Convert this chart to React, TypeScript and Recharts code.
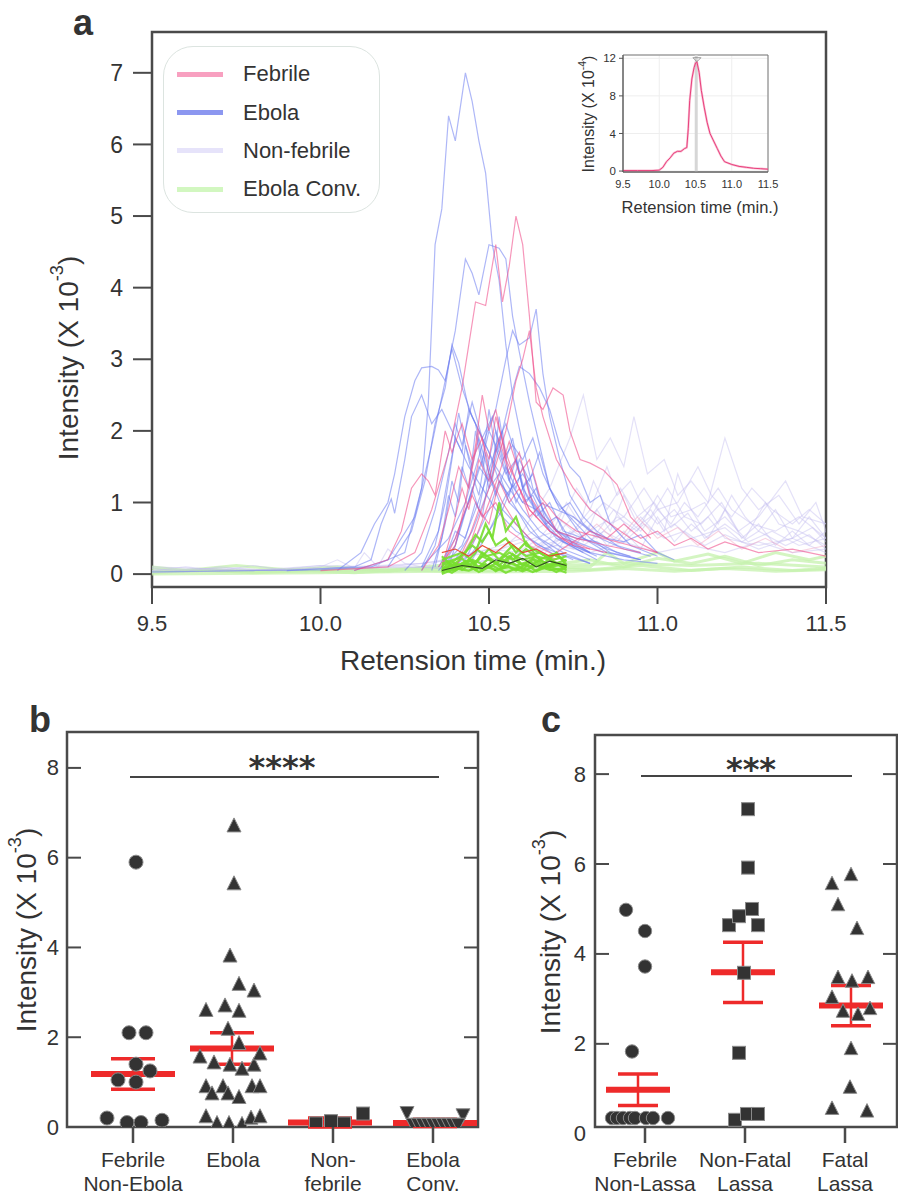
import React from 'react';
import {
  LineChart, Line, XAxis, YAxis, ReferenceArea, ReferenceLine, ReferenceDot,
  ScatterChart, Scatter, CartesianGrid,
} from 'recharts';

const FONT = '"Liberation Sans", Arial, Helvetica, sans-serif';
const AXIS = '#4a4a4a';
const TXT = '#333';
const RED = '#ee2a2a';

// ---------------- Panel a data ----------------
const aXTicks = [9.5, 10, 10.5, 11, 11.5];
const aYTicks = [0, 1, 2, 3, 4, 5, 6, 7];
const legendLabels = ['Febrile', 'Ebola', 'Non-febrile', 'Ebola Conv.'];
const legendColors = ['#f8a0c0', '#8c97f0', '#e6e3fa', '#d2f7c0'];

const ebola1 = [[9.5,0.03],[9.8,0.05],[10.0,0.06],[10.15,0.1],[10.25,0.3],[10.3,1.2],[10.32,2.4],[10.34,4.6],[10.36,5.1],[10.38,6.4],[10.4,6.05],[10.43,7.0],[10.45,6.6],[10.47,6.05],[10.49,5.6],[10.51,4.6],[10.53,4.1],[10.55,3.2],[10.57,2.5],[10.6,1.8],[10.63,1.2],[10.67,0.8],[10.72,0.5],[10.8,0.3],[10.9,0.2],[11.0,0.15]];
const ebola2 = [[10.1,0.05],[10.2,0.2],[10.28,0.8],[10.33,1.8],[10.37,2.7],[10.4,3.4],[10.43,4.4],[10.45,4.2],[10.47,3.9],[10.5,4.6],[10.53,4.55],[10.55,4.4],[10.57,3.6],[10.59,3.1],[10.62,2.4],[10.65,1.8],[10.68,1.2],[10.72,0.9],[10.78,0.5],[10.85,0.3],[10.95,0.2]];
const ebola3 = [[10.2,0.1],[10.27,0.6],[10.31,1.3],[10.34,2.1],[10.37,2.6],[10.39,3.2],[10.41,2.95],[10.44,2.3],[10.47,2.0],[10.5,1.7],[10.53,1.3],[10.57,1.0],[10.62,0.6],[10.7,0.3],[10.8,0.15]];
const ebola4 = [[10.05,0.05],[10.12,0.3],[10.16,0.7],[10.2,1.0],[10.22,1.4],[10.25,2.2],[10.28,2.7],[10.3,2.88],[10.33,2.9],[10.35,2.85],[10.37,2.7],[10.39,3.15],[10.42,2.6],[10.45,2.2],[10.48,1.9],[10.52,1.5],[10.56,1.2],[10.6,0.9],[10.65,0.6],[10.72,0.35],[10.8,0.2]];
const ebola5 = [[9.9,0.05],[10.1,0.1],[10.15,0.2],[10.18,0.7],[10.21,1.05],[10.22,0.85],[10.25,1.6],[10.27,2.2],[10.3,2.5],[10.33,2.1],[10.36,2.3],[10.4,1.9],[10.44,1.5],[10.48,1.2],[10.52,0.9],[10.58,0.6],[10.65,0.4],[10.75,0.2]];
const ebola6 = [[10.3,0.1],[10.38,0.5],[10.43,1.0],[10.48,1.8],[10.52,2.3],[10.55,3.0],[10.57,3.4],[10.59,3.2],[10.62,3.3],[10.64,3.7],[10.66,2.8],[10.68,2.2],[10.71,1.6],[10.74,1.1],[10.78,0.8],[10.82,0.6],[10.88,0.4],[10.95,0.3]];
const ebola7 = [[10.3,0.1],[10.35,0.6],[10.38,1.4],[10.4,1.9],[10.42,1.7],[10.44,2.3],[10.46,2.1],[10.48,1.6],[10.5,2.0],[10.53,1.7],[10.56,1.3],[10.6,1.0],[10.64,0.9],[10.68,0.6],[10.74,0.4],[10.82,0.2]];
const ebola8 = [[10.35,0.1],[10.4,0.5],[10.44,1.0],[10.47,1.5],[10.5,1.3],[10.52,1.8],[10.55,2.1],[10.57,1.8],[10.6,1.6],[10.63,1.9],[10.66,1.4],[10.7,1.0],[10.74,0.8],[10.8,0.5],[10.86,0.3],[10.95,0.2]];
const ebola9 = [[10.4,0.2],[10.45,0.6],[10.5,1.2],[10.53,1.8],[10.56,2.4],[10.59,2.9],[10.62,2.8],[10.65,2.6],[10.68,2.3],[10.71,1.8],[10.74,1.5],[10.77,1.35],[10.8,1.0],[10.83,1.1],[10.86,0.7],[10.92,0.4],[11.0,0.25]];
const ebola10 = [[10.36,0.1],[10.4,0.4],[10.43,0.9],[10.46,1.3],[10.48,1.6],[10.5,1.2],[10.53,1.4],[10.56,1.0],[10.6,0.8],[10.65,0.5],[10.72,0.3],[10.8,0.15]];
const ebola11 = [[10.38,0.05],[10.45,0.3],[10.5,0.6],[10.54,0.9],[10.57,1.25],[10.6,1.0],[10.63,1.1],[10.66,0.8],[10.7,0.6],[10.76,0.5],[10.82,0.45],[10.88,0.3],[10.95,0.2]];
const ebola12 = [[10.45,0.2],[10.5,0.6],[10.55,1.1],[10.6,1.4],[10.65,1.0],[10.7,0.9],[10.75,0.8],[10.8,0.6],[10.85,0.5],[10.9,0.45],[10.95,0.55],[11.0,0.3],[11.05,0.2]];
const ebola13 = [[10.3,0.05],[10.34,0.4],[10.37,1.0],[10.39,1.6],[10.41,2.25],[10.43,1.8],[10.45,1.5],[10.47,1.9],[10.5,1.4],[10.54,0.9],[10.58,0.7],[10.62,0.5],[10.7,0.25]];
const ebola14 = [[10.35,0.05],[10.42,0.4],[10.46,0.9],[10.49,1.3],[10.52,1.75],[10.55,1.4],[10.58,1.6],[10.61,1.1],[10.65,0.8],[10.7,0.5],[10.78,0.3]];
const ebola15 = [[10.33,0.05],[10.36,0.5],[10.38,1.1],[10.4,0.8],[10.42,1.5],[10.44,1.2],[10.46,2.0],[10.48,1.5],[10.5,2.3],[10.52,1.7],[10.54,2.0],[10.56,1.3],[10.58,1.6],[10.61,1.0],[10.64,1.2],[10.67,0.7],[10.7,0.8],[10.75,0.4],[10.82,0.25]];
const ebola16 = [[10.34,0.1],[10.37,0.7],[10.39,1.3],[10.41,1.0],[10.43,1.8],[10.45,1.4],[10.47,1.1],[10.49,1.7],[10.51,1.3],[10.53,2.2],[10.55,1.6],[10.57,1.9],[10.6,1.2],[10.63,1.4],[10.66,0.9],[10.7,0.6],[10.76,0.45],[10.84,0.3]];
const ebola17 = [[10.36,0.1],[10.4,0.6],[10.43,0.5],[10.46,1.0],[10.48,0.8],[10.5,1.4],[10.52,1.1],[10.55,1.5],[10.58,1.0],[10.61,1.3],[10.64,0.8],[10.68,1.0],[10.72,0.6],[10.78,0.5],[10.85,0.35],[10.92,0.25]];
const ebola18 = [[10.25,0.05],[10.3,0.3],[10.34,0.9],[10.37,1.5],[10.4,2.1],[10.42,1.8],[10.45,2.4],[10.48,1.9],[10.51,2.2],[10.54,1.6],[10.57,1.8],[10.6,1.2],[10.64,0.9],[10.68,0.7],[10.73,0.5],[10.8,0.3]];
const ebola19 = [[10.42,0.1],[10.46,0.5],[10.5,0.9],[10.53,1.3],[10.56,1.1],[10.59,1.6],[10.62,1.3],[10.65,1.7],[10.68,1.2],[10.71,0.9],[10.74,1.0],[10.78,0.7],[10.83,0.5],[10.9,0.35],[10.98,0.25]];
const ebola20 = [[10.38,0.1],[10.42,0.7],[10.45,1.2],[10.47,0.9],[10.5,1.6],[10.52,2.0],[10.55,1.5],[10.58,1.2],[10.6,1.5],[10.63,1.0],[10.67,0.7],[10.72,0.45],[10.8,0.3]];
const ebolaTraces = [ebola1, ebola2, ebola3, ebola4, ebola5, ebola6, ebola7, ebola8, ebola9, ebola10, ebola11, ebola12, ebola13, ebola14, ebola15, ebola16, ebola17, ebola18, ebola19, ebola20];

const febrile1 = [[10.0,0.05],[10.2,0.1],[10.28,0.3],[10.33,0.9],[10.38,1.7],[10.42,2.6],[10.44,3.2],[10.46,3.8],[10.49,3.75],[10.52,4.6],[10.54,3.8],[10.56,4.3],[10.58,5.0],[10.6,4.6],[10.62,3.6],[10.64,2.4],[10.66,2.3],[10.69,2.6],[10.72,2.5],[10.74,2.0],[10.77,1.6],[10.8,1.55],[10.84,1.45],[10.88,1.25],[10.92,0.8],[10.98,0.5]];
const febrile2 = [[10.4,0.1],[10.45,0.5],[10.5,1.2],[10.55,2.0],[10.58,2.7],[10.6,3.0],[10.62,3.4],[10.64,2.6],[10.66,2.2],[10.7,1.6],[10.75,1.2],[10.8,0.9],[10.86,0.7],[10.92,0.5],[11.0,0.3]];
const febrile3 = [[10.1,0.05],[10.2,0.2],[10.24,0.6],[10.27,1.2],[10.3,1.4],[10.32,1.3],[10.34,1.1],[10.37,2.0],[10.39,1.7],[10.42,2.1],[10.45,1.6],[10.48,1.9],[10.5,1.4],[10.54,1.0],[10.58,0.7],[10.64,0.4],[10.72,0.2]];
const febrile4 = [[10.35,0.1],[10.4,0.4],[10.43,1.0],[10.46,1.8],[10.48,2.5],[10.5,2.0],[10.52,2.3],[10.55,1.6],[10.58,1.3],[10.62,0.9],[10.68,0.6],[10.75,0.4],[10.85,0.3]];
const febrile5 = [[10.4,0.1],[10.46,0.5],[10.5,1.0],[10.53,1.4],[10.56,1.85],[10.59,1.4],[10.62,1.6],[10.65,1.1],[10.7,0.8],[10.76,0.6],[10.84,0.5],[10.92,0.4],[11.0,0.3]];
const febrile6 = [[10.36,0.1],[10.4,0.5],[10.43,0.9],[10.45,1.1],[10.48,0.8],[10.52,1.0],[10.56,0.6],[10.62,0.4],[10.7,0.2]];
const febrile7 = [[10.7,0.3],[10.8,0.6],[10.85,0.5],[10.9,0.7],[10.95,0.5],[11.0,0.6],[11.05,0.4],[11.1,0.5],[11.15,0.35],[11.2,0.45],[11.3,0.3],[11.4,0.35],[11.5,0.25]];
const febrile8 = [[10.36,0.1],[10.39,0.6],[10.42,1.2],[10.44,0.9],[10.47,1.6],[10.5,1.3],[10.53,1.9],[10.56,1.4],[10.59,1.7],[10.62,1.1],[10.66,0.8],[10.72,0.5],[10.8,0.35]];
const febrile9 = [[10.4,0.1],[10.44,0.5],[10.47,0.9],[10.5,0.7],[10.53,1.3],[10.56,1.0],[10.59,1.2],[10.62,0.8],[10.66,1.0],[10.7,0.6],[10.76,0.5],[10.85,0.4],[10.95,0.3]];
const febrile10 = [[10.3,0.05],[10.35,0.4],[10.38,0.9],[10.41,1.5],[10.44,1.2],[10.47,2.0],[10.5,1.6],[10.52,2.2],[10.55,1.7],[10.58,1.3],[10.62,0.9],[10.68,0.6],[10.75,0.4]];
const febrile11 = [[10.75,0.4],[10.82,0.7],[10.88,0.45],[10.94,0.8],[11.0,0.5],[11.06,0.65],[11.12,0.4],[11.18,0.6],[11.25,0.35],[11.32,0.5],[11.4,0.3],[11.5,0.4]];
const febrileTraces = [febrile1, febrile2, febrile3, febrile4, febrile5, febrile6, febrile7, febrile8, febrile9, febrile10];
const febrileTailTraces = [febrile11];

const nonFeb1 = [[9.5,0.05],[9.7,0.08],[9.9,0.05],[10.1,0.1],[10.3,0.15],[10.5,0.3],[10.7,0.6],[10.76,1.2],[10.8,0.9],[10.85,1.5],[10.88,1.1],[10.92,1.3],[10.96,0.9],[11.0,0.7],[11.05,0.9],[11.1,0.6],[11.15,0.8],[11.2,0.5],[11.3,0.4],[11.4,0.5],[11.5,0.3]];
const nonFeb2 = [[9.5,0.1],[9.8,0.05],[10.0,0.12],[10.2,0.1],[10.4,0.2],[10.6,0.5],[10.7,0.8],[10.75,0.6],[10.8,0.9],[10.86,0.7],[10.9,0.8],[10.95,0.6],[11.0,0.9],[11.04,0.7],[11.08,1.0],[11.12,0.8],[11.18,1.2],[11.22,0.9],[11.28,0.7],[11.35,0.6],[11.42,0.8],[11.5,0.5]];
const nonFeb3 = [[10.5,0.1],[10.7,0.4],[10.78,0.7],[10.82,0.5],[10.88,0.8],[10.94,0.6],[11.0,1.1],[11.04,0.8],[11.1,0.9],[11.14,0.6],[11.2,0.8],[11.26,0.5],[11.32,1.0],[11.36,0.7],[11.42,0.6],[11.5,0.4]];
const nonFeb4 = [[9.5,0.02],[10.0,0.08],[10.4,0.1],[10.6,0.3],[10.72,0.5],[10.78,0.4],[10.84,0.6],[10.9,0.45],[10.96,0.7],[11.02,0.5],[11.08,0.6],[11.14,0.4],[11.2,0.55],[11.3,0.35],[11.4,0.5],[11.46,0.65],[11.5,0.45]];
const nonFeb5 = [[10.5,0.2],[10.6,0.6],[10.68,1.2],[10.74,1.9],[10.78,2.5],[10.82,1.6],[10.86,1.9],[10.9,1.5],[10.93,2.2],[10.97,1.4],[11.02,1.6],[11.06,1.1],[11.1,1.3],[11.15,1.0],[11.2,1.9],[11.25,1.2],[11.3,0.9],[11.36,1.1],[11.42,0.7],[11.47,1.0],[11.5,0.6]];
const nonFeb6 = [[10.55,0.2],[10.65,0.5],[10.72,0.9],[10.78,0.7],[10.84,1.0],[10.9,0.8],[10.96,1.2],[11.0,0.9],[11.06,1.0],[11.12,1.5],[11.16,1.1],[11.22,0.8],[11.28,1.2],[11.34,0.9],[11.4,0.7],[11.45,0.9],[11.5,0.7]];
const nonFeb7 = [[9.5,0.05],[9.6,0.1],[9.7,0.05],[9.8,0.12],[9.9,0.05],[10.0,0.1],[10.05,0.2],[10.1,0.08],[10.13,0.3],[10.17,0.1],[10.2,0.35],[10.25,0.15],[10.3,0.1],[10.4,0.25],[10.5,0.35],[10.6,0.3],[10.7,0.4],[10.8,0.3],[10.9,0.45],[11.0,0.3],[11.1,0.4],[11.2,0.3],[11.3,0.45],[11.4,0.3],[11.5,0.35]];
const nonFeb8 = [[10.6,0.3],[10.7,0.55],[10.75,0.8],[10.8,0.6],[10.85,0.75],[10.9,0.5],[10.95,0.8],[11.0,0.55],[11.05,0.7],[11.1,0.5],[11.2,0.65],[11.25,0.45],[11.3,0.6],[11.38,0.4],[11.45,0.55],[11.5,0.35]];
const nonFeb9 = [[10.7,0.3],[10.74,0.6],[10.78,0.45],[10.82,0.9],[10.86,0.6],[10.9,1.1],[10.94,0.7],[10.98,0.9],[11.02,0.6],[11.06,1.4],[11.1,0.9],[11.14,1.0],[11.18,0.7],[11.22,1.1],[11.26,0.8],[11.3,0.6],[11.35,0.9],[11.4,0.5],[11.45,0.8],[11.5,0.5]];
const nonFeb10 = [[10.65,0.2],[10.7,0.5],[10.75,0.35],[10.8,0.7],[10.85,0.4],[10.9,0.6],[10.95,0.35],[11.0,0.8],[11.05,0.45],[11.1,0.7],[11.15,0.5],[11.2,0.9],[11.25,0.5],[11.3,0.7],[11.35,0.4],[11.4,0.6],[11.45,0.4],[11.5,0.6]];
const nonFeb11 = [[9.5,0.08],[9.6,0.04],[9.7,0.1],[9.85,0.05],[10.0,0.12],[10.1,0.06],[10.2,0.12],[10.35,0.08],[10.5,0.2],[10.65,0.3],[10.75,0.6],[10.8,0.45],[10.87,0.9],[10.92,0.6],[10.98,0.8],[11.03,1.2],[11.08,0.8],[11.13,0.7],[11.19,1.0],[11.24,0.6],[11.3,0.8],[11.38,1.3],[11.43,0.8],[11.5,0.7]];
const nonFeb12 = [[10.6,0.2],[10.68,0.5],[10.73,1.0],[10.77,0.7],[10.81,1.3],[10.85,0.9],[10.89,1.2],[10.94,0.8],[10.99,1.0],[11.04,0.65],[11.09,0.85],[11.14,0.5],[11.2,0.7],[11.27,0.45],[11.34,0.6],[11.42,0.4],[11.5,0.5]];
const nonFebTraces = [nonFeb1, nonFeb2, nonFeb3, nonFeb4, nonFeb5, nonFeb6, nonFeb7, nonFeb8, nonFeb9, nonFeb10, nonFeb11, nonFeb12];

const convFaint1 = [[9.5,0.03],[9.7,0.05],[9.9,0.04],[10.1,0.06],[10.3,0.08],[10.5,0.1],[10.7,0.12],[10.9,0.15],[11.1,0.12],[11.3,0.15],[11.5,0.1]];
const convFaint2 = [[9.5,0.06],[9.8,0.04],[10.0,0.07],[10.2,0.05],[10.4,0.1],[10.6,0.08],[10.8,0.2],[10.9,0.1],[11.0,0.22],[11.1,0.15],[11.2,0.25],[11.3,0.12],[11.4,0.2],[11.5,0.15]];
const convFaint3 = [[9.5,0.0],[10.0,0.02],[10.5,0.05],[10.8,0.1],[10.85,0.3],[10.9,0.15],[11.0,0.3],[11.05,0.18],[11.15,0.28],[11.25,0.15],[11.35,0.3],[11.45,0.2],[11.5,0.25]];
const convFaint4 = [[9.5,0.1],[9.6,0.05],[9.75,0.12],[9.9,0.06],[10.05,0.1],[10.2,0.04],[10.35,0.12],[10.8,0.06],[10.95,0.12],[11.1,0.05],[11.25,0.1],[11.4,0.05],[11.5,0.08]];
const convFaint5 = [[9.5,0.02],[9.65,0.06],[9.8,0.02],[9.95,0.05],[10.1,0.02],[10.25,0.06],[10.4,0.03],[10.75,0.04],[10.9,0.08],[11.05,0.04],[11.2,0.08],[11.35,0.04],[11.5,0.06]];
const convFaintTraces = [convFaint1, convFaint2, convFaint3, convFaint4, convFaint5];

const convBright1 = [[10.36,0.05],[10.4,0.15],[10.44,0.1],[10.48,0.25],[10.52,0.15],[10.56,0.3],[10.6,0.2],[10.64,0.25],[10.68,0.1],[10.73,0.15]];
const convBright2 = [[10.36,0.1],[10.4,0.05],[10.45,0.2],[10.5,0.1],[10.54,0.2],[10.58,0.12],[10.62,0.18],[10.66,0.08],[10.7,0.15],[10.73,0.05]];
const convBright3 = [[10.36,0.2],[10.42,0.3],[10.46,0.15],[10.5,0.35],[10.53,0.2],[10.57,0.4],[10.61,0.25],[10.65,0.3],[10.69,0.2],[10.73,0.25]];
const convBright4 = [[10.36,0.05],[10.42,0.1],[10.46,0.3],[10.49,0.7],[10.51,0.5],[10.53,1.0],[10.55,0.6],[10.58,0.8],[10.61,0.4],[10.65,0.3],[10.7,0.15],[10.73,0.1]];
const convBright5 = [[10.36,0.0],[10.4,0.08],[10.44,0.05],[10.48,0.12],[10.52,0.06],[10.56,0.1],[10.6,0.04],[10.64,0.12],[10.68,0.06],[10.73,0.08]];
const convBright6 = [[10.36,0.15],[10.41,0.22],[10.45,0.4],[10.49,0.25],[10.53,0.3],[10.57,0.2],[10.61,0.35],[10.65,0.2],[10.69,0.28],[10.73,0.18]];
const convBright7 = [[10.36,0.08],[10.39,0.02],[10.43,0.14],[10.47,0.03],[10.51,0.12],[10.55,0.02],[10.59,0.1],[10.63,0.03],[10.67,0.12],[10.73,0.02]];
const convBright8 = [[10.36,0.12],[10.39,0.18],[10.42,0.06],[10.45,0.16],[10.48,0.05],[10.51,0.18],[10.54,0.08],[10.57,0.16],[10.6,0.06],[10.63,0.2],[10.66,0.1],[10.69,0.16],[10.73,0.1]];
const convBright9 = [[10.36,0.02],[10.38,0.1],[10.41,0.12],[10.44,0.2],[10.47,0.1],[10.5,0.22],[10.53,0.12],[10.56,0.25],[10.59,0.15],[10.62,0.1],[10.65,0.2],[10.68,0.12],[10.73,0.2]];
const convBright10 = [[10.36,0.25],[10.39,0.12],[10.42,0.22],[10.45,0.08],[10.48,0.3],[10.51,0.2],[10.54,0.1],[10.57,0.28],[10.6,0.12],[10.63,0.22],[10.66,0.14],[10.7,0.3],[10.73,0.12]];
const convBright11 = [[10.36,0.03],[10.4,0.2],[10.43,0.3],[10.46,0.55],[10.48,0.45],[10.5,0.6],[10.52,0.4],[10.55,0.5],[10.58,0.3],[10.61,0.45],[10.64,0.25],[10.68,0.2],[10.73,0.1]];
const convBright12 = [[10.36,0.06],[10.38,0.15],[10.4,0.1],[10.43,0.18],[10.46,0.06],[10.49,0.14],[10.52,0.04],[10.55,0.12],[10.58,0.05],[10.61,0.14],[10.64,0.04],[10.67,0.1],[10.7,0.03],[10.73,0.1]];
const convBrightTraces = [convBright1, convBright2, convBright3, convBright4, convBright5, convBright6, convBright7, convBright8, convBright9, convBright10, convBright11, convBright12];
const darkTrace = [[10.36,0.05],[10.42,0.12],[10.48,0.08],[10.52,0.2],[10.56,0.15],[10.6,0.22],[10.64,0.1],[10.68,0.18],[10.73,0.12]];
const redTrace = [[10.36,0.3],[10.4,0.35],[10.44,0.25],[10.48,0.4],[10.52,0.3],[10.56,0.45],[10.6,0.3],[10.64,0.35],[10.68,0.25],[10.73,0.3]];

// inset
const insetX = [9.5,9.7,9.9,10.0,10.05,10.1,10.15,10.2,10.25,10.3,10.35,10.38,10.4,10.42,10.45,10.48,10.5,10.52,10.55,10.58,10.62,10.66,10.7,10.75,10.8,10.85,10.9,11.0,11.1,11.2,11.3,11.4,11.5];
const insetY = [0.05,0.05,0.05,0.1,0.4,1.0,1.4,1.9,2.1,2.1,2.4,2.5,4.5,7.5,9.8,11.0,11.5,11.6,10.5,8.6,6.8,5.2,4.0,3.2,2.4,1.6,1.0,0.7,0.5,0.4,0.3,0.25,0.2];
const insetXTicks = [9.5, 10, 10.5, 11, 11.5];
const insetYTicks = [0, 4, 8, 12];

// ---------------- Panel b data ----------------
const bCategories = [['Febrile', 'Non-Ebola'], ['Ebola', ''], ['Non-', 'febrile'], ['Ebola', 'Conv.']];
const bYTicks = [0, 2, 4, 6, 8];
const bFebrile = [[1.03,5.9],[0.96,2.1],[1.13,2.1],[1.03,1.4],[1.17,1.25],[0.85,1.05],[1.03,1.0],[0.74,0.2],[0.94,0.1],[1.08,0.1],[1.29,0.15]];
const bEbola = [[2.01,6.73],[2.01,5.44],[1.97,3.83],[2.06,3.2],[2.21,3.05],[1.73,2.62],[1.92,2.72],[2.06,2.6],[1.95,2.2],[2.06,1.88],[1.67,1.58],[1.81,1.45],[1.97,1.4],[2.09,1.31],[2.21,1.4],[2.27,1.65],[1.73,0.92],[1.79,0.76],[1.9,0.92],[1.95,0.76],[2.06,0.68],[2.19,0.92],[2.27,0.92],[1.73,0.25],[1.84,0.1],[1.96,0.1],[2.09,0.08],[2.18,0.22],[2.27,0.25]];
const bNonFebrile = [[2.83,0.08],[2.98,0.13],[3.11,0.08],[3.3,0.3]];
const bConv = [[3.74,0.3],[4.3,0.25],[3.8,0.04],[3.85,0.04],[3.9,0.04],[3.95,0.04],[4.0,0.04],[4.05,0.04],[4.1,0.04],[4.15,0.04],[4.2,0.04],[4.25,0.04]];
const bCenters = [1.0, 1.99, 2.97, 4.02];
const bMeans = [1.18, 1.75, 0.1, 0.09];
const bSems = [0.34, 0.35, 0.1, 0.08];

// ---------------- Panel c data ----------------
const cCategories = [['Febrile', 'Non-Lassa'], ['Non-Fatal', 'Lassa'], ['Fatal', 'Lassa']];
const cYTicks = [0, 2, 4, 6, 8];
const cFebrile = [[0.81,4.98],[1.0,4.51],[1.0,3.72],[0.87,1.83],[0.67,0.35],[0.72,0.35],[0.78,0.35],[0.85,0.35],[0.9,0.35],[1.01,0.35],[1.08,0.35],[1.23,0.35]];
const cNonFatal = [[2.03,7.22],[2.03,5.92],[1.84,4.64],[1.94,4.84],[2.07,5.0],[2.13,4.64],[1.99,3.58],[1.94,1.8],[1.9,0.31],[2.02,0.44],[2.13,0.44]];
const cFatal = [[2.87,5.58],[3.06,5.78],[2.93,5.11],[3.12,4.58],[2.93,3.49],[3.07,3.41],[3.23,3.49],[2.87,3.05],[2.98,2.74],[3.13,2.67],[3.25,2.8],[3.06,1.91],[3.05,1.05],[2.87,0.58],[3.22,0.52]];
const cCenters = [0.93, 1.98, 3.06];
const cMeans = [0.98, 3.59, 2.85];
const cSems = [0.35, 0.67, 0.45];

const pts = (t: number[][]) => t.map(([x, y]) => ({ x, y }));

// ---------------- shapes ----------------
const MK = '#333';
const MKS = '#8a8a8a';
const circleShape = (r: number) => (p: any) => (
  <circle cx={p.cx} cy={p.cy} r={r} fill={MK} stroke={MKS} strokeWidth={1} />
);
const triShape = (s: number) => (p: any) => (
  <path d={`M${p.cx},${p.cy - s / 2} L${p.cx + s / 2},${p.cy + s / 2} L${p.cx - s / 2},${p.cy + s / 2} Z`} fill={MK} stroke={MKS} strokeWidth={1} />
);
const downTriShape = (s: number) => (p: any) => (
  <path d={`M${p.cx - s / 2},${p.cy - s / 2} L${p.cx + s / 2},${p.cy - s / 2} L${p.cx},${p.cy + s / 2} Z`} fill={MK} stroke={MKS} strokeWidth={1} />
);
const squareShape = (s: number) => (p: any) => (
  <rect x={p.cx - s / 2} y={p.cy - s / 2} width={s} height={s} fill={MK} stroke={MKS} strokeWidth={1} />
);

const makeYTick = (left: number, right: number, labelX: number, domainMin: number) => (p: any) => {
  const v = p.payload.value;
  const y = p.y;
  const inside = v >= domainMin;
  return (
    <g>
      {inside && <line x1={left} x2={left + 14} y1={y} y2={y} stroke={AXIS} strokeWidth={2} />}
      {inside && <line x1={right} x2={right - 14} y1={y} y2={y} stroke={AXIS} strokeWidth={2} />}
      <text x={labelX} y={y} textAnchor="end" dominantBaseline="central" fontSize={22} fill={TXT} fontFamily={FONT}>{v}</text>
    </g>
  );
};

const makeCatTick = (cats: string[][], y1: number, y2: number) => (p: any) => {
  const lab = cats[p.index] || ['', ''];
  return (
    <g>
      <text x={p.x} y={y1} textAnchor="middle" dominantBaseline="central" fontSize={21} fill={TXT} fontFamily={FONT}>{lab[0]}</text>
      <text x={p.x} y={y2} textAnchor="middle" dominantBaseline="central" fontSize={21} fill={TXT} fontFamily={FONT}>{lab[1]}</text>
    </g>
  );
};

const meanBars = (centers: number[], means: number[], sems: number[], hw: number, chw: number) => {
  const out: any[] = [];
  centers.forEach((c, i) => {
    const m = means[i];
    const s = sems[i];
    out.push(<ReferenceLine key={`v${i}`} segment={[{ x: c, y: m - s }, { x: c, y: m + s }]} stroke={RED} strokeWidth={2.5} ifOverflow="visible" />);
    out.push(<ReferenceLine key={`t${i}`} segment={[{ x: c - chw, y: m + s }, { x: c + chw, y: m + s }]} stroke={RED} strokeWidth={3.5} ifOverflow="visible" />);
    out.push(<ReferenceLine key={`b${i}`} segment={[{ x: c - chw, y: m - s }, { x: c + chw, y: m - s }]} stroke={RED} strokeWidth={3.5} ifOverflow="visible" />);
    out.push(<ReferenceLine key={`m${i}`} segment={[{ x: c - hw, y: m }, { x: c + hw, y: m }]} stroke={RED} strokeWidth={6} ifOverflow="visible" />);
  });
  return out;
};

const lineEl = (t: number[][], key: string, stroke: string, op: number, w: number) => (
  <Line key={key} data={pts(t)} dataKey="y" type="linear" stroke={stroke} strokeOpacity={op} strokeWidth={w} dot={false} activeDot={false} isAnimationActive={false} />
);

function PanelA() {
  return (
    <div style={{ position: 'absolute', left: 0, top: 0 }}>
      <LineChart width={898} height={700} margin={{ top: 32, right: 72, bottom: 53, left: 92 }}>
        <XAxis type="number" dataKey="x" domain={[9.5, 11.5]} allowDataOverflow ticks={aXTicks} interval={0}
          tickFormatter={(v: number) => v.toFixed(1)} height={60} axisLine={false}
          tickSize={17} tickMargin={11} tickLine={{ stroke: AXIS, strokeWidth: 2 }}
          tick={{ fontSize: 22, fill: TXT, fontFamily: FONT }} />
        <YAxis type="number" domain={[-0.18, 7.57]} allowDataOverflow ticks={aYTicks} interval={0} width={60}
          axisLine={false} tickSize={19} tickMargin={10} tickLine={{ stroke: AXIS, strokeWidth: 2 }}
          tick={{ fontSize: 23, fill: TXT, fontFamily: FONT }} />
        {convFaintTraces.map((t, i) => lineEl(t, 'gf' + i, '#c6f2ae', 0.75, 3))}
        {nonFebTraces.map((t, i) => lineEl(t, 'n' + i, '#c4bdf0', 0.45, 1.2))}
        {febrileTailTraces.map((t, i) => lineEl(t, 'pt' + i, '#f0a0c0', 0.45, 1.2))}
        {ebolaTraces.map((t, i) => lineEl(t, 'e' + i, '#6b7cf0', 0.55, 1.2))}
        {febrileTraces.map((t, i) => lineEl(t, 'p' + i, '#f0508c', 0.6, 1.2))}
        {convBrightTraces.map((t, i) => lineEl(t, 'gb' + i, '#78de30', 0.9, 2.2))}
        {lineEl(darkTrace, 'dk', '#2a3a20', 0.9, 1.2)}
        {lineEl(redTrace, 'rd', '#e8402a', 0.9, 1.2)}
        <ReferenceArea x1={9.5} x2={11.5} y1={-0.18} y2={7.57} fill="none" stroke={AXIS} strokeWidth={2.5} />
      </LineChart>
    </div>
  );
}

function Inset() {
  const data = insetX.map((x, i) => ({ x, y: insetY[i] }));
  return (
    <div style={{ position: 'absolute', left: 540, top: 40 }}>
      <LineChart width={240} height={180} data={data} margin={{ top: 15, right: 12, bottom: 26, left: 58 }}>
        <CartesianGrid stroke="#eeeeee" strokeWidth={1} />
        <XAxis type="number" dataKey="x" domain={[9.5, 11.5]} ticks={insetXTicks} interval={0} height={22}
          tickFormatter={(v: number) => v.toFixed(1)} axisLine={{ stroke: '#555' }} tickLine={false} tickMargin={2}
          tick={{ fontSize: 11, fill: TXT, fontFamily: FONT }} />
        <YAxis type="number" domain={[-0.1, 12.35]} allowDataOverflow ticks={insetYTicks} interval={0} width={25}
          axisLine={{ stroke: '#555' }} tickSize={4} tickMargin={3} tickLine={{ stroke: '#555' }}
          tick={{ fontSize: 11.5, fill: TXT, fontFamily: FONT }} />
        <ReferenceLine x={10.51} stroke="#d6d6d6" strokeWidth={3} />
        <ReferenceArea x1={9.5} x2={11.5} y1={-0.1} y2={12.35} fill="none" stroke="#777" strokeWidth={1} />
        <Line dataKey="y" type="linear" stroke="#f37aa6" strokeWidth={2.2} strokeOpacity={0.5} dot={false} activeDot={false} isAnimationActive={false} />
        <Line dataKey="y" type="linear" stroke="#e8407c" strokeWidth={1} dot={false} activeDot={false} isAnimationActive={false} />
        <ReferenceDot x={10.52} y={11.85} r={3}
          shape={(p: any) => <path d={`M${p.cx - 4},${p.cy - 2} L${p.cx + 4},${p.cy - 2} L${p.cx},${p.cy + 2} Z`} fill="none" stroke="#888" strokeWidth={0.8} />} />
      </LineChart>
    </div>
  );
}

function PanelB() {
  return (
    <div style={{ position: 'absolute', left: 0, top: 680 }}>
      <ScatterChart width={500} height={515} margin={{ top: 52, right: 22, bottom: 8, left: 27 }}>
        <XAxis type="number" dataKey="x" domain={[0.34, 4.45]} allowDataOverflow ticks={[1, 2, 3, 4]} interval={0}
          height={60} axisLine={false} tickSize={16} tickLine={{ stroke: AXIS, strokeWidth: 2.5 }}
          tick={makeCatTick(bCategories, 479.5, 503.5)} />
        <YAxis type="number" dataKey="y" domain={[0, 8.8]} allowDataOverflow ticks={bYTicks} interval={0} width={40}
          axisLine={false} tickLine={false}
          tick={makeYTick(67, 478, 59, 0)} />
        {meanBars(bCenters, bMeans, bSems, 0.42, 0.22)}
        <ReferenceLine segment={[{ x: 0.97, y: 7.8 }, { x: 4.06, y: 7.8 }]} stroke="#444" strokeWidth={2} />
        <Scatter data={pts(bFebrile)} shape={circleShape(7)} isAnimationActive={false} />
        <Scatter data={pts(bEbola)} shape={triShape(14)} isAnimationActive={false} />
        <Scatter data={pts(bNonFebrile)} shape={squareShape(13)} isAnimationActive={false} />
        <Scatter data={pts(bConv)} shape={downTriShape(14)} isAnimationActive={false} />
        <ReferenceArea x1={0.34} x2={4.45} y1={0} y2={8.8} fill="none" stroke={AXIS} strokeWidth={2.5} />
      </ScatterChart>
    </div>
  );
}

function PanelC() {
  return (
    <div style={{ position: 'absolute', left: 520, top: 680 }}>
      <ScatterChart width={378} height={515} margin={{ top: 55, right: 1, bottom: 8, left: 35 }}>
        <XAxis type="number" dataKey="x" domain={[0.5, 3.52]} allowDataOverflow ticks={[1, 2, 3]} interval={0}
          height={60} axisLine={false} tickSize={16} tickLine={{ stroke: AXIS, strokeWidth: 2.5 }}
          tick={makeCatTick(cCategories, 479.5, 503.5)} />
        <YAxis type="number" dataKey="y" domain={[0.15, 8.87]} allowDataOverflow ticks={cYTicks} interval={0} width={40}
          axisLine={false} tickLine={false}
          tick={makeYTick(75, 377, 66, 0.15)} />
        {meanBars(cCenters, cMeans, cSems, 0.32, 0.2)}
        <ReferenceLine segment={[{ x: 0.96, y: 7.96 }, { x: 3.07, y: 7.96 }]} stroke="#444" strokeWidth={2} />
        <Scatter data={pts(cFebrile)} shape={circleShape(6.7)} isAnimationActive={false} />
        <Scatter data={pts(cNonFatal)} shape={squareShape(13)} isAnimationActive={false} />
        <Scatter data={pts(cFatal)} shape={triShape(13.5)} isAnimationActive={false} />
        <ReferenceArea x1={0.5} x2={3.52} y1={0.15} y2={8.87} fill="none" stroke={AXIS} strokeWidth={2.5} />
      </ScatterChart>
    </div>
  );
}

function Legend() {
  return (
    <div style={{ position: 'absolute', left: 163, top: 46, width: 217, height: 167, boxSizing: 'border-box', border: '1.5px solid #dce4e0', borderRadius: 30, background: 'rgba(255,255,255,0.6)' }}>
      {legendLabels.map((l, i) => (
        <React.Fragment key={l}>
          <div style={{ position: 'absolute', left: 13, top: 27.3 + i * 38.3 - 2.5, width: 46, height: 5, background: legendColors[i] }} />
          <div style={{ position: 'absolute', left: 79, top: 27.3 + i * 38.3 - 13, fontSize: 22, lineHeight: '26px', color: TXT, fontFamily: FONT, whiteSpace: 'nowrap' }}>{l}</div>
        </React.Fragment>
      ))}
    </div>
  );
}

const YTitle = ({ x, y, fs, exp }: { x: number; y: number; fs: number; exp: string }) => (
  <text transform={`translate(${x},${y}) rotate(-90)`} textAnchor="middle" dominantBaseline="central" fontSize={fs} fill={TXT} fontFamily={FONT}>
    Intensity (X 10<tspan fontSize={fs * 0.65} dy={-fs * 0.38}>{exp}</tspan><tspan dy={fs * 0.38}>)</tspan>
  </text>
);

function Overlay() {
  return (
    <svg width={898} height={1195} style={{ position: 'absolute', left: 0, top: 0, pointerEvents: 'none' }}>
      <text x={83} y={35} textAnchor="middle" fontSize={36} fontWeight="bold" fill={TXT} fontFamily={FONT}>a</text>
      <text x={40} y={732} textAnchor="middle" fontSize={36} fontWeight="bold" fill={TXT} fontFamily={FONT}>b</text>
      <text x={551} y={732} textAnchor="middle" fontSize={36} fontWeight="bold" fill={TXT} fontFamily={FONT}>c</text>
      <YTitle x={68} y={358} fs={28} exp="-3" />
      <text x={473} y={660} textAnchor="middle" dominantBaseline="central" fontSize={28} fill={TXT} fontFamily={FONT}>Retension time (min.)</text>
      <YTitle x={588} y={114} fs={16} exp="-4" />
      <text x={700} y={207} textAnchor="middle" dominantBaseline="central" fontSize={16.5} fill={TXT} fontFamily={FONT}>Retension time (min.)</text>
      <YTitle x={26} y={930} fs={28} exp="-3" />
      <YTitle x={550} y={932} fs={28} exp="-3" />
      <text x={282} y={778} textAnchor="middle" fontSize={32} fontWeight="bold" fill={TXT} fontFamily='"DejaVu Sans", sans-serif'>****</text>
      <text x={751} y={780} textAnchor="middle" fontSize={32} fontWeight="bold" fill={TXT} fontFamily='"DejaVu Sans", sans-serif'>***</text>
    </svg>
  );
}

export default function App() {
  return (
    <div style={{ position: 'absolute', left: 0, top: 0, width: 898, height: 1195, background: '#fff', fontFamily: FONT }}>
      <PanelA />
      <Inset />
      <PanelB />
      <PanelC />
      <Legend />
      <Overlay />
    </div>
  );
}
